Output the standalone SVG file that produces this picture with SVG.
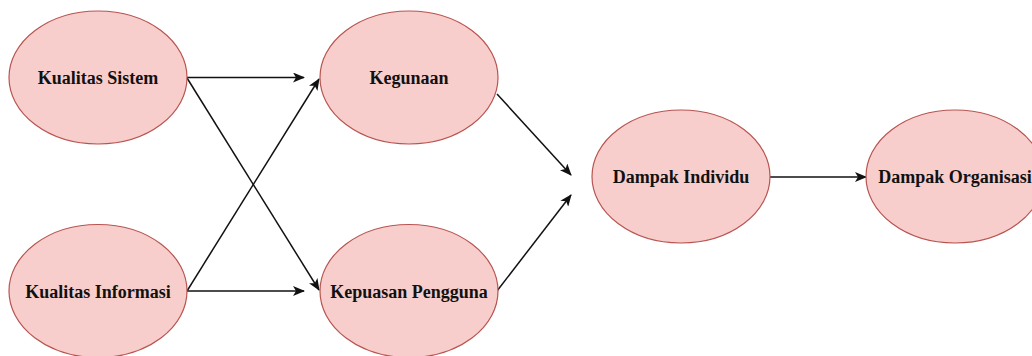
<svg xmlns="http://www.w3.org/2000/svg" width="1032" height="356" viewBox="0 0 1032 356">
<style>
.node ellipse{fill:#f8cecc;stroke:#b85450;stroke-width:1.2}
.node text{font-family:"Liberation Serif","Times New Roman",serif;font-weight:bold;font-size:18px;fill:#111;text-anchor:middle;dominant-baseline:central}
.conn path{fill:none;stroke:#111;stroke-width:1.5;marker-end:url(#arr)}
</style>
<defs>
<marker id="arr" viewBox="0 0 12 10" refX="11" refY="5" markerWidth="12" markerHeight="10" markerUnits="userSpaceOnUse" orient="auto">
<path d="M0,0 L12,5 L0,10 L3,5 Z" fill="#111"/>
</marker>
</defs>
<rect width="1032" height="356" fill="#fff"/>
<g class="conn">
<path d="M187,77.5 L304,77.5"/>
<path d="M187,78 L319,290"/>
<path d="M187,291 L319,79"/>
<path d="M187,291 L304,291"/>
<path d="M497,94 L571,175"/>
<path d="M497,291 L571,195"/>
<path d="M770,177 L866,177"/>
</g>
<g class="node" id="kualitas-sistem"><ellipse cx="98" cy="77.5" rx="89" ry="66.5"/><text x="98" y="78">Kualitas Sistem</text></g>
<g class="node" id="kegunaan"><ellipse cx="409" cy="77.5" rx="89" ry="66.5"/><text x="409" y="78">Kegunaan</text></g>
<g class="node" id="kualitas-informasi"><ellipse cx="98" cy="291" rx="89" ry="66.5"/><text x="98" y="292">Kualitas Informasi</text></g>
<g class="node" id="kepuasan-pengguna"><ellipse cx="409" cy="291" rx="89" ry="66.5"/><text x="409" y="292">Kepuasan Pengguna</text></g>
<g class="node" id="dampak-individu"><ellipse cx="681" cy="176.5" rx="89" ry="66.5"/><text x="681" y="177">Dampak Individu</text></g>
<g class="node" id="dampak-organisasi"><ellipse cx="955" cy="176.5" rx="89" ry="66.5"/><text x="955" y="177">Dampak Organisasi</text></g>
</svg>
